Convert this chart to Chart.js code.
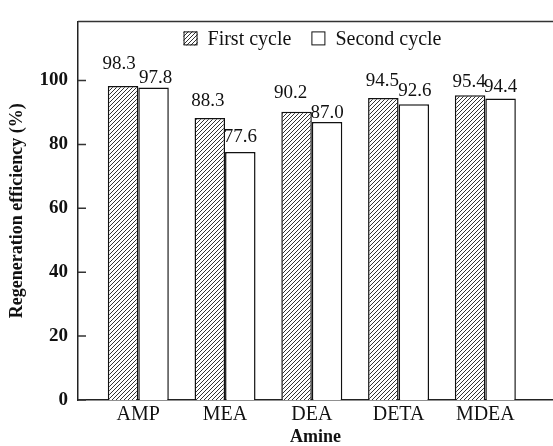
<!DOCTYPE html>
<html>
<head>
<meta charset="utf-8">
<script src="https://cdn.jsdelivr.net/npm/chart.js@4/dist/chart.umd.min.js"></script>
<style>
  html, body { margin: 0; padding: 0; background: #fff; }
  canvas { display: block; }
</style>
</head>
<body>
<canvas id="c" width="553" height="446"></canvas>
<script>
// Regeneration efficiency of each amine over two cycles
const amines = ['AMP', 'MEA', 'DEA', 'DETA', 'MDEA'];
const firstCycle = [98.3, 88.3, 90.2, 94.5, 95.4];
const secondCycle = [97.8, 77.6, 87.0, 92.6, 94.4];
const seriesNames = ['First cycle', 'Second cycle'];
const yTickStep = 20;

// Small per-label nudges [dx, lift above bar top] in px, so neighbouring labels don't collide
const labelNudge = [
  [[-4, 17], [-2, 12], [-6, 14], [-1, 12], [-1, 8]],
  [[2, 5], [0, 10], [0, 4], [1, 8], [0, 6]]
];

const SERIF = "'Liberation Serif', 'Times New Roman', serif";
const INK = '#111';
const canvas = document.getElementById('c');
const ctx = canvas.getContext('2d');

// Diagonal hatch fill for the first-cycle bars
function makeHatch() {
  const s = 4;
  const tile = document.createElement('canvas');
  tile.width = s; tile.height = s;
  const g = tile.getContext('2d');
  g.fillStyle = '#fff';
  g.fillRect(0, 0, s, s);
  g.strokeStyle = '#333';
  g.lineWidth = 1;
  g.beginPath();
  g.moveTo(0, s); g.lineTo(s, 0);
  g.moveTo(-1, 1); g.lineTo(1, -1);
  g.moveTo(s - 1, s + 1); g.lineTo(s + 1, s - 1);
  g.stroke();
  return ctx.createPattern(tile, 'repeat');
}
const hatch = makeHatch();

// Top frame line and inward y ticks
const framePlugin = {
  id: 'frame',
  afterDraw(chart) {
    const { ctx, chartArea: a, scales: { y } } = chart;
    ctx.save();
    ctx.strokeStyle = '#333';
    ctx.lineWidth = 1.5;
    ctx.beginPath();
    ctx.moveTo(a.left, a.top);
    ctx.lineTo(a.right + 2, a.top);
    y.ticks.forEach(t => {
      const py = y.getPixelForValue(t.value);
      ctx.moveTo(a.left, py);
      ctx.lineTo(a.left + 8, py);
    });
    ctx.stroke();
    ctx.restore();
  }
};

// Value labels above each bar
const valueLabels = {
  id: 'valueLabels',
  afterDatasetsDraw(chart) {
    const { ctx } = chart;
    ctx.save();
    ctx.font = '19px ' + SERIF;
    ctx.fillStyle = INK;
    ctx.textAlign = 'center';
    ctx.textBaseline = 'alphabetic';
    chart.data.datasets.forEach((ds, d) => {
      chart.getDatasetMeta(d).data.forEach((el, i) => {
        const [dx, lift] = labelNudge[d][i];
        ctx.fillText(ds.data[i].y.toFixed(1), el.x + dx, el.y - lift);
      });
    });
    ctx.restore();
  }
};

// Legend drawn inside the plot frame
const innerLegend = {
  id: 'innerLegend',
  afterDraw(chart) {
    const { ctx, chartArea: a } = chart;
    const box = 14, gapText = 10, gapItem = 20;
    ctx.save();
    ctx.font = '20px ' + SERIF;
    const widths = chart.data.datasets.map(ds => ctx.measureText(ds.label).width);
    const total = widths.reduce((s, w) => s + box + gapText + w, 0) + gapItem * (widths.length - 1);
    let x = (a.left + a.right) / 2 - total / 2 - 3;
    const cy = a.top + 17;
    chart.data.datasets.forEach((ds, d) => {
      ctx.fillStyle = ds.backgroundColor;
      ctx.fillRect(x, cy - box / 2, box, box);
      ctx.strokeStyle = INK;
      ctx.lineWidth = 1;
      ctx.strokeRect(x + 0.5, cy - box / 2 + 0.5, box - 1, box - 1);
      ctx.fillStyle = INK;
      ctx.textAlign = 'left';
      ctx.textBaseline = 'middle';
      ctx.fillText(ds.label, x + box + gapText, cy + 1);
      x += box + gapText + widths[d] + gapItem;
    });
    ctx.restore();
  }
};

const barStyle = { borderColor: INK, borderWidth: 1.5, categoryPercentage: 0.703, barPercentage: 1 };

new Chart(ctx, {
  type: 'bar',
  data: {
    datasets: [
      Object.assign({ label: seriesNames[0], backgroundColor: hatch,
        data: firstCycle.map((v, i) => ({ x: i + 1, y: v })) }, barStyle),
      Object.assign({ label: seriesNames[1], backgroundColor: '#fff',
        data: secondCycle.map((v, i) => ({ x: i + 1, y: v })) }, barStyle)
    ]
  },
  options: {
    responsive: false,
    animation: false,
    devicePixelRatio: 1,
    layout: { padding: { top: 13, right: 0, bottom: 0, left: 0 } },
    plugins: { legend: { display: false }, tooltip: { enabled: false } },
    scales: {
      x: {
        type: 'linear',
        offset: false,
        min: 0.305,
        max: 5.78,
        afterBuildTicks: s => { s.ticks = amines.map((_, i) => ({ value: i + 1 })); },
        afterFit: s => { s.height = 46; },
        grid: { display: false, drawTicks: false, offset: false },
        border: { display: true, color: '#222', width: 1.5 },
        ticks: {
          callback: v => amines[v - 1],
          font: { family: SERIF, size: 20 },
          color: INK,
          padding: 3,
          maxRotation: 0,
          autoSkip: false
        },
        title: {
          display: true, text: 'Amine', color: INK,
          font: { family: SERIF, size: 18, weight: 'bold', lineHeight: 1 },
          padding: { top: 0, bottom: 0 }
        }
      },
      y: {
        min: 0,
        max: 118.5,
        afterFit: s => { s.width = 78; },
        grid: { display: false, drawTicks: false },
        border: { display: true, color: '#222', width: 1.5 },
        ticks: {
          stepSize: yTickStep,
          includeBounds: false,
          font: { family: SERIF, size: 19, weight: 'bold' },
          color: INK,
          padding: 10
        },
        title: {
          display: true, text: 'Regeneration efficiency (%)', color: INK,
          font: { family: SERIF, size: 18, weight: 'bold' },
          padding: { top: 7, bottom: 0 }
        }
      }
    }
  },
  plugins: [framePlugin, valueLabels, innerLegend]
});
</script>
</body>
</html>
